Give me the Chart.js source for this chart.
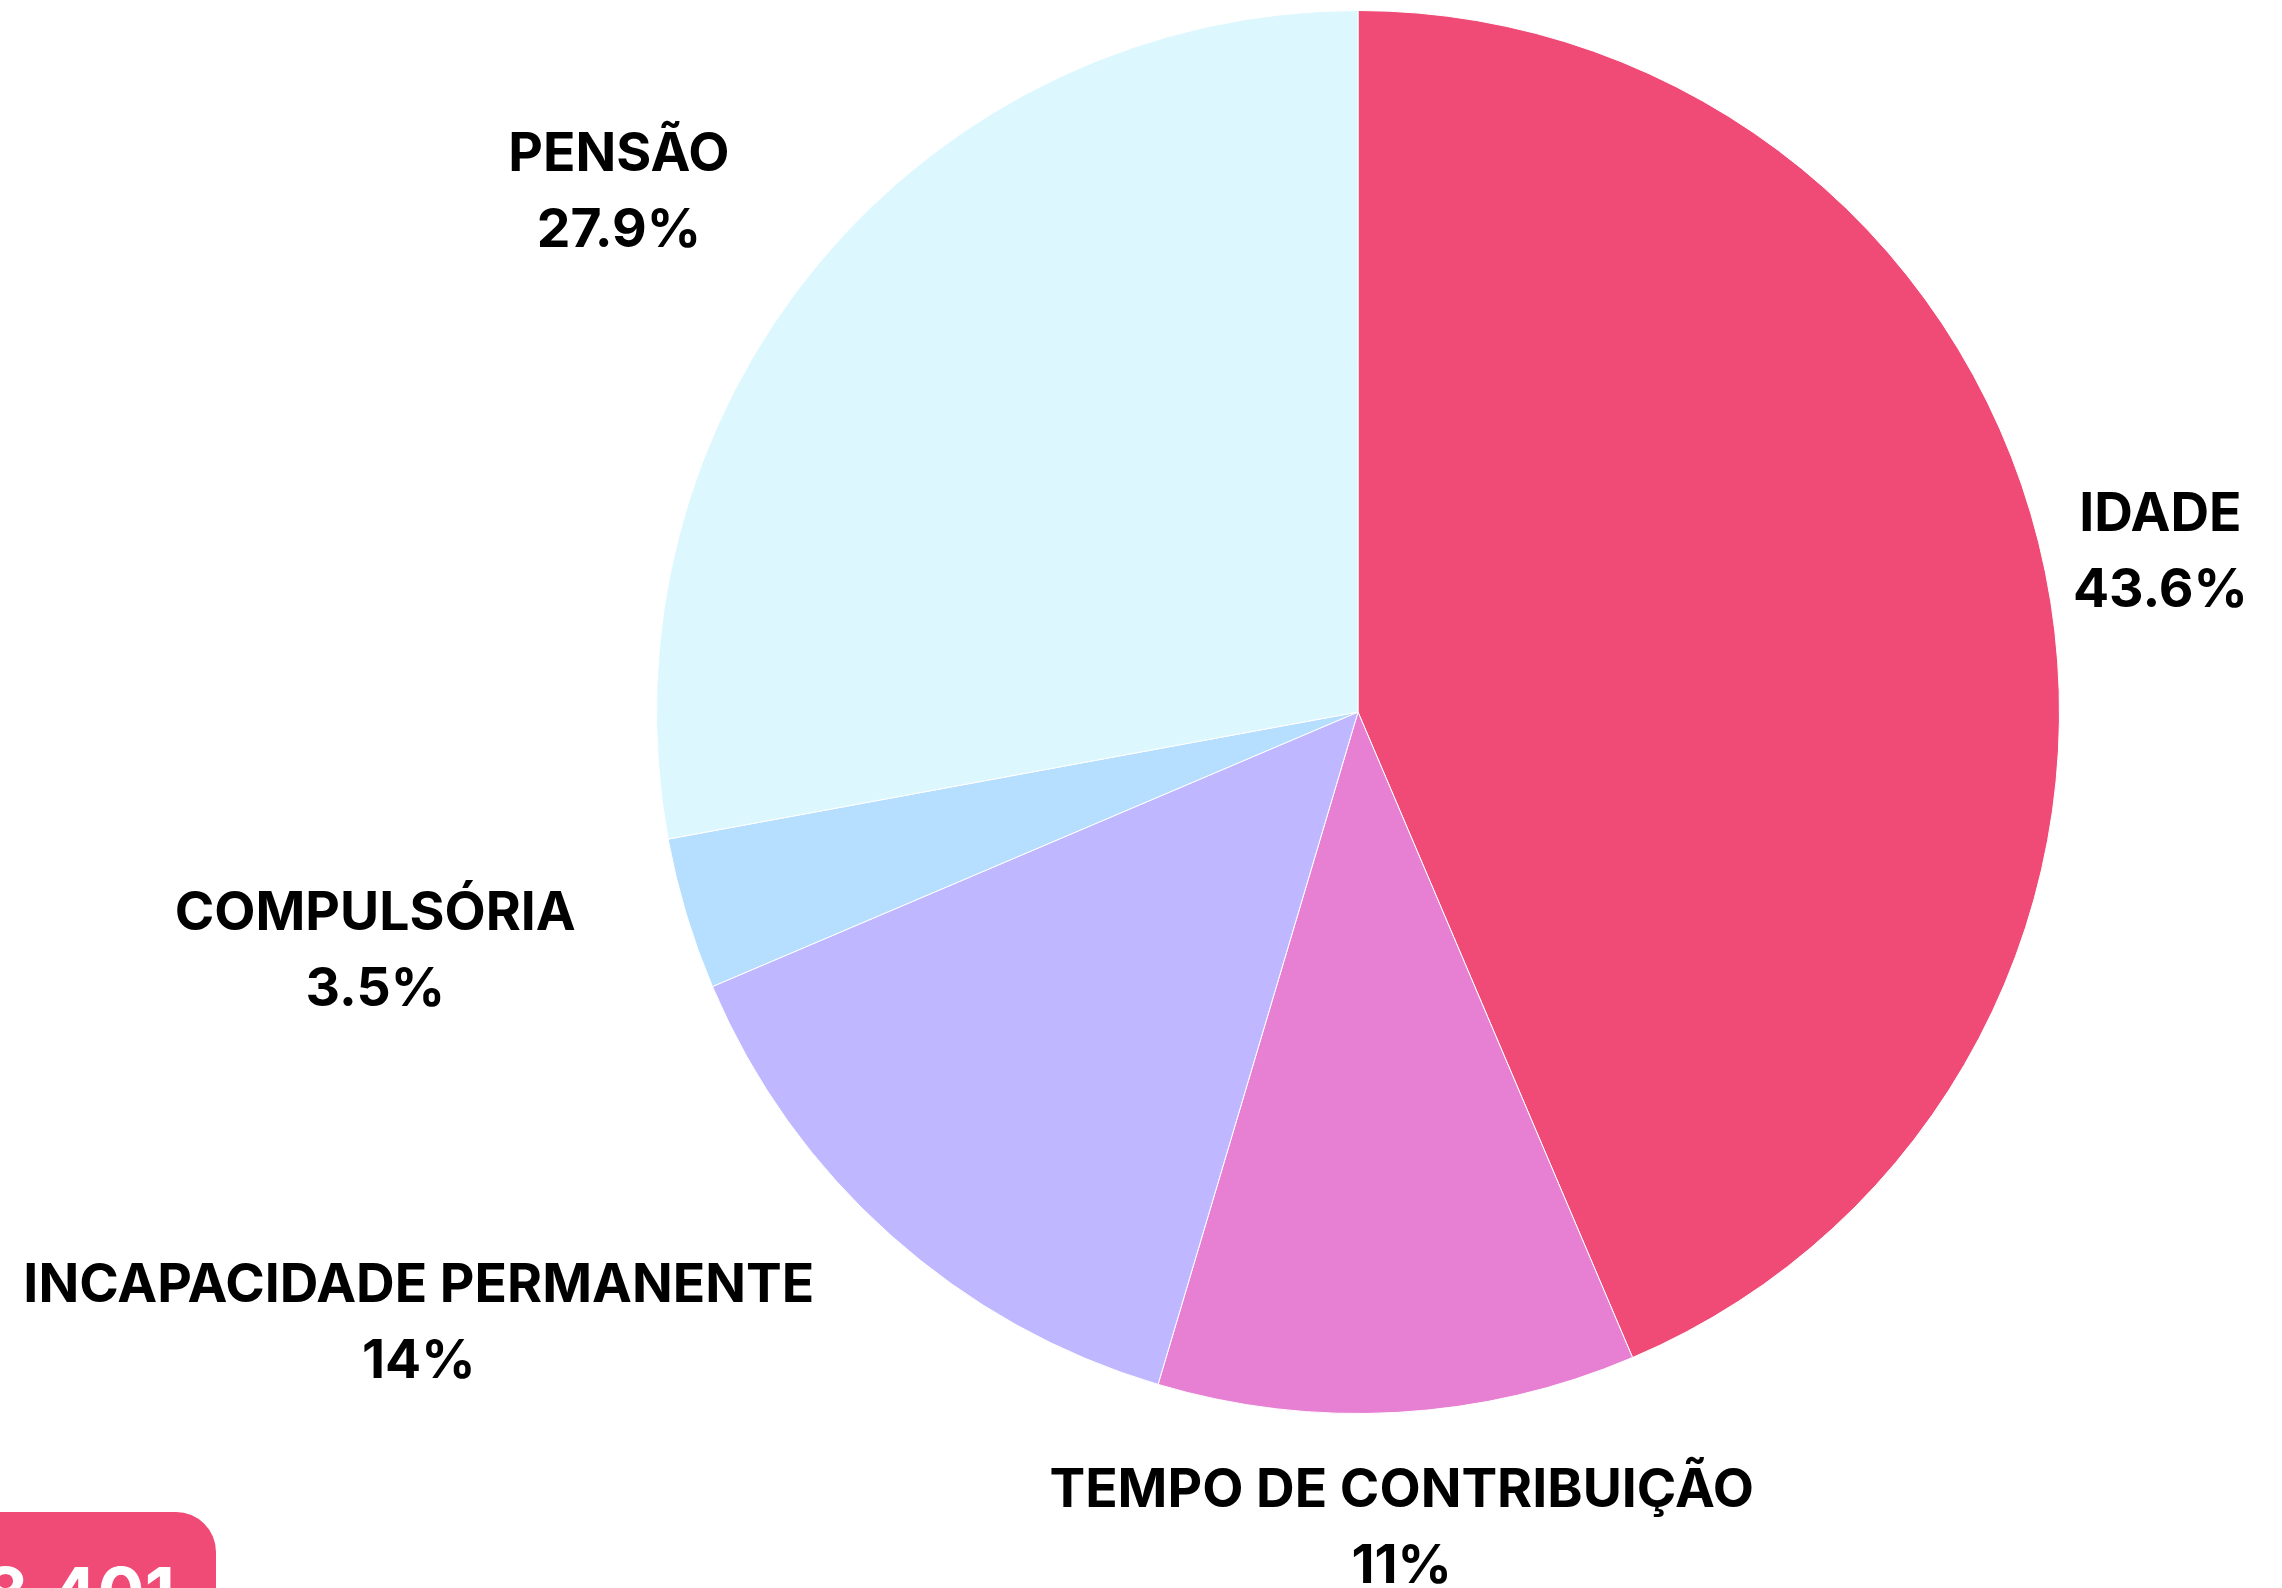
<!DOCTYPE html>
<html>
<head>
<meta charset="utf-8">
<script src="https://cdn.jsdelivr.net/npm/chart.js@4.4.1/dist/chart.umd.min.js"></script>
<style>
  html, body { margin:0; padding:0; background:#fff; overflow:hidden; }
  #wrap { position:relative; width:2282px; height:1588px; }
  #badge {
    position:absolute; left:-140px; top:1512px; width:356px; height:160px;
    background:#F04A76; border-radius:40px; color:#fff;
    font-family:Inter, sans-serif; font-weight:700; font-size:70px;
    text-align:right; box-sizing:border-box; padding:39px 41px 0 0; line-height:1.21;
  }
</style>
</head>
<body>
<div id="wrap">
  <canvas id="myChart" width="2282" height="1588"></canvas>
  <div id="badge">8.401</div>
</div>
<script>
var categories = ["IDADE", "TEMPO DE CONTRIBUIÇÃO", "INCAPACIDADE PERMANENTE", "COMPULSÓRIA", "PENSÃO"]
var percents = [43.6, 11, 14, 3.5, 27.9]
var colors = ["#F04A76", "#E780D2", "#BFB7FF", "#B5DEFF", "#DCF8FE"]
// label shift from the slice's outer edge point, in px
var labelNudge = [[115, -19], [4, 117], [-472, 89], [-311, 38], [-200, -70]]

var outsideLabels = {
    id: "outsideLabels",
    afterDatasetsDraw: function(chart){
        var ctx = chart.ctx
        var meta = chart.getDatasetMeta(0)
        ctx.save()
        ctx.fillStyle = "#000"
        ctx.textAlign = "center"
        ctx.textBaseline = "middle"
        ctx.font = "700 53.5px Inter, sans-serif"
        meta.data.forEach(function(arc, i){
            var mid = (arc.startAngle + arc.endAngle) / 2
            var ax = arc.x + Math.cos(mid) * arc.outerRadius
            var ay = arc.y + Math.sin(mid) * arc.outerRadius
            var cx = ax + labelNudge[i][0]
            var cy = ay + labelNudge[i][1]
            ctx.fillText(categories[i], cx, cy - 38)
            ctx.fillText(percents[i] + "%", cx, cy + 38)
        })
        ctx.restore()
    }
}

var myChart = document.getElementById("myChart").getContext("2d")
var chart = new Chart(myChart, {
    type: "pie",
    data: {
        labels: categories,
        datasets: [{
            data: percents,
            backgroundColor: colors,
            borderColor: "#ffffff",
            borderWidth: 1
        }]
    },
    options: {
        responsive: false,
        animation: false,
        layout: { padding: { left: 634, right: 200, top: 10, bottom: 174 } },
        plugins: { legend: { display: false }, tooltip: { enabled: false } }
    },
    plugins: [outsideLabels]
})
</script>
</body>
</html>
